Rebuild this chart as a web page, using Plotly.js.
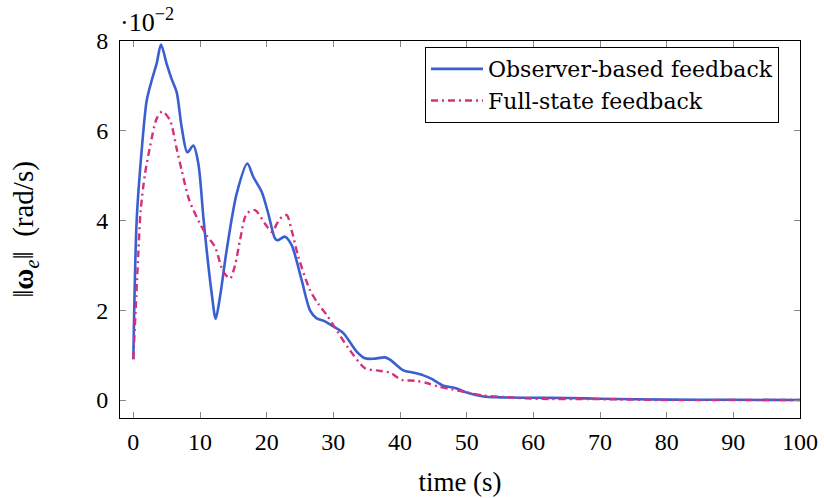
<!DOCTYPE html>
<html>
<head>
<meta charset="utf-8">
<script src="https://cdn.plot.ly/plotly-3.0.1.min.js"></script>
<style>html,body{margin:0;padding:0;background:#fff;}#chart{width:824px;height:498px;}</style>
</head>
<body>
<div id="chart"></div>
<script>
// time (s)
var tObserver = [0, 0.5, 1.25, 2, 2.75, 3.5, 4.15, 5.0, 5.75, 6.5, 7.25, 8.1, 9.0, 9.75, 10.5, 11.0, 11.75, 12.35, 13.0, 14.0, 15.5, 17.1, 18.0, 19.25, 20.25, 21.25, 21.65, 22.75, 23.75, 25.25, 26.5, 27.5, 28.5, 30, 31.5, 33.5, 34.75, 36, 37.75, 38.5, 40.5, 42, 43.5, 44.75, 46.5, 48.25, 50, 52.5, 55, 60, 65, 70, 80, 90, 100];
// ||omega_e|| in units of 1e-2 rad/s
var observerVals = [0.91, 4.0, 5.56, 6.67, 7.12, 7.5, 7.92, 7.49, 7.15, 6.86, 6.08, 5.52, 5.67, 5.27, 4.08, 3.34, 2.38, 1.81, 2.3, 3.34, 4.6, 5.27, 4.97, 4.64, 4.15, 3.6, 3.56, 3.64, 3.45, 2.67, 2.0, 1.82, 1.77, 1.64, 1.49, 1.08, 0.93, 0.92, 0.95, 0.90, 0.66, 0.61, 0.55, 0.47, 0.32, 0.27, 0.17, 0.08, 0.06, 0.05, 0.045, 0.03, 0.01, 0.005, 0.0];

var tFull = [0, 0.75, 1.1, 1.75, 2.5, 3.5, 4.35, 5.5, 6.5, 7.25, 8.4, 10, 11, 12.25, 13.5, 14.5, 15.25, 16, 17, 18.25, 19.75, 20.75, 22, 23, 23.75, 24.75, 26.5, 27.75, 29, 30, 32.25, 34.75, 36.5, 38.5, 40.25, 42.25, 44, 45.75, 47.75, 50, 52.5, 55.5, 60, 70, 80, 90, 100];
var fullVals = [0.91, 3.27, 4.23, 5.04, 5.64, 6.27, 6.43, 6.23, 5.6, 5.12, 4.45, 3.93, 3.67, 3.41, 2.86, 2.71, 3.0, 3.56, 4.15, 4.23, 3.93, 3.75, 4.04, 4.12, 3.78, 3.19, 2.45, 2.14, 1.9, 1.67, 1.16, 0.71, 0.66, 0.61, 0.45, 0.43, 0.38, 0.30, 0.24, 0.17, 0.10, 0.07, 0.03, 0.02, 0.0, 0.0, 0.0];

var xTicks = [0, 10, 20, 30, 40, 50, 60, 70, 80, 90, 100];
var yTicks = [0, 2, 4, 6, 8];
var seriesNames = ["Observer-based feedback", "Full-state feedback"];

var FONT = "'Liberation Serif', 'DejaVu Serif', serif";
var LEGEND_FONT = "'DejaVu Serif', 'Liberation Serif', serif";

var traces = [
  {x: tObserver, y: observerVals, name: seriesNames[0], mode: "lines",
   line: {color: "#3a5fd0", width: 2.6, shape: "spline", smoothing: 0.8}},
  {x: tFull, y: fullVals, name: seriesNames[1], mode: "lines",
   line: {color: "#d6307a", width: 2.4, dash: "7px,4px,2px,4px", shape: "spline", smoothing: 0.8}}
];

var axisCommon = {
  showline: true, linecolor: "#000", linewidth: 1, mirror: "allticks",
  ticks: "inside", ticklen: 6, tickcolor: "#888", tickwidth: 1,
  showgrid: false, zeroline: false,
  tickfont: {family: FONT, size: 24, color: "#000"}
};

var layout = {
  width: 824, height: 498,
  margin: {l: 120, r: 24, t: 41, b: 80},
  paper_bgcolor: "#fff", plot_bgcolor: "#fff",
  showlegend: true,
  font: {family: FONT, color: "#000"},
  xaxis: Object.assign({}, axisCommon, {
    range: [-2, 100], tickvals: xTicks, ticktext: xTicks.map(String),
    ticklabelstandoff: 2,
    title: {text: "time (s)", font: {family: FONT, size: 27}, standoff: 18}
  }),
  yaxis: Object.assign({}, axisCommon, {
    range: [-0.4, 8], tickvals: yTicks, ticktext: yTicks.map(String),
    ticklabelstandoff: 6,
    title: {text: "‖<b>ω</b><sub><i>e</i></sub>‖&nbsp; (rad/s)", font: {family: FONT, size: 29}, standoff: 54}
  }),
  legend: {
    x: (425 - 120) / 680, xanchor: "left", y: 0.984, yanchor: "top",
    bgcolor: "#fff", bordercolor: "#000", borderwidth: 1,
    font: {family: LEGEND_FONT, size: 22, color: "#000"},
    itemwidth: 52,
    tracegroupgap: 0
  },
  annotations: [{
    xref: "paper", yref: "paper", x: 0, y: 1, xanchor: "left", yanchor: "bottom",
    xshift: -2, yshift: 2,
    text: "·10<sup>−2</sup>", showarrow: false,
    font: {family: FONT, size: 26, color: "#000"}
  }]
};

Plotly.newPlot("chart", traces, layout, {displayModeBar: false, staticPlot: true});
</script>
</body>
</html>
